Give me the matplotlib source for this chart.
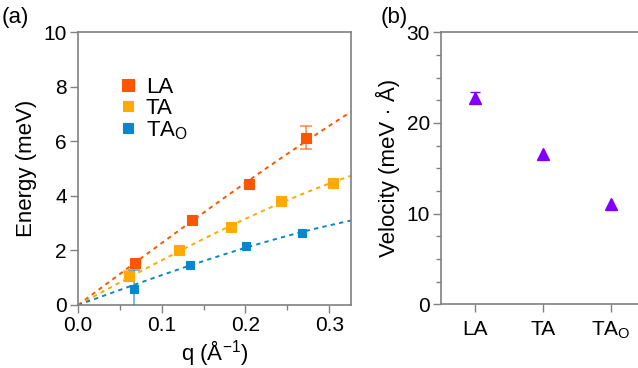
import numpy as np
import matplotlib
matplotlib.use("Agg")
import matplotlib.pyplot as plt

plt.rcParams['font.family'] = ['Liberation Sans', 'DejaVu Sans']
plt.rcParams['mathtext.fontset'] = 'custom'
plt.rcParams['mathtext.rm'] = 'Liberation Sans'
plt.rcParams['mathtext.it'] = 'Liberation Sans'

# ---- data: panel (a) ----
q_LA = [0.068, 0.136, 0.204, 0.272]
E_LA = [1.55, 3.10, 4.42, 6.13]
err_LA = [0.0, 0.0, 0.0, 0.43]

q_TA = [0.061, 0.121, 0.183, 0.243, 0.304]
E_TA = [1.06, 2.00, 2.85, 3.81, 4.48]
err_TA = [0.17, 0.0, 0.0, 0.0, 0.0]

q_TAO = [0.067, 0.134, 0.2005, 0.267]
E_TAO = [0.60, 1.465, 2.16, 2.65]
err_TAO = [0.67, 0.0, 0.0, 0.0]

# sine-dispersion fit parameters: initial slope (velocity) and zone-boundary q
fit_v = [22.8, 16.6, 11.1]
fit_qb = [0.948, 0.579, 0.536]

# ---- data: panel (b) ----
branches = ['LA', 'TA', r'TA$_\mathrm{O}$']
velocity = [22.8, 16.6, 11.1]
vel_err = [0.64, 0.0, 0.0]

c_LA = '#ff5500'
c_TA = '#ffaa00'
c_TAO = '#0a87cc'
c_v = '#8000ff'
spine_c = '#808080'

FS_TICK = 15
FS_LAB = 16

fig = plt.figure(figsize=(6.38, 3.68), dpi=100)
W, H = 638, 368

def add_ax(l, t, r, b):
    return fig.add_axes([l / W, 1 - b / H, (r - l) / W, (b - t) / H])

axa = add_ax(78, 32, 351, 305)
axb = add_ax(441, 32.3, 645, 304.3)

for ax in (axa, axb):
    for s in ax.spines.values():
        s.set_color(spine_c)
        s.set_linewidth(1.2)
    ax.tick_params(axis='both', which='major', direction='out', length=6, width=1.0,
                   color=spine_c, labelsize=FS_TICK, labelcolor='black', pad=2)
    ax.tick_params(axis='both', which='minor', direction='out', length=3.5, width=1.0,
                   color=spine_c)

# panel (a)
qq = np.linspace(0, 0.326, 200)
for v, qb, c in zip(fit_v, fit_qb, [c_LA, c_TA, c_TAO]):
    E = v * 2 * qb / np.pi * np.sin(np.pi * qq / (2 * qb))
    axa.plot(qq, E, ls=(0, (2.2, 2.2)), color=c, lw=1.4, zorder=2)

def pts(q, E, err, c, ms, label):
    q = np.asarray(q); E = np.asarray(E); err = np.asarray(err)
    m = err > 0
    axa.errorbar(q[m], E[m], yerr=err[m], fmt='none', ecolor=c, alpha=0.7,
                 elinewidth=1.1, capsize=4, capthick=1.1, zorder=3)
    axa.plot(q, E, ls='none', marker='s', ms=ms, color=c, mec=c, mfc=c, mew=0.8,
             label=label, zorder=4)

pts(q_LA, E_LA, err_LA, c_LA, 7.2, 'LA')
pts(q_TA, E_TA, err_TA, c_TA, 6.6, 'TA')
pts(q_TAO, E_TAO, err_TAO, c_TAO, 6.2, r'TA$_\mathrm{O}$')

axa.set_xlim(0, 0.326)
axa.set_ylim(0, 10)
axa.set_xticks([0.0, 0.1, 0.2, 0.3])
axa.set_xticklabels(['0.0', '0.1', '0.2', '0.3'])
axa.set_xticks([0.05, 0.15, 0.25], minor=True)
axa.set_yticks([0, 2, 4, 6, 8, 10])
axa.set_xlabel(r'q (Å$^{\mathrm{-1}}$)', fontsize=FS_LAB, labelpad=2)
axa.set_ylabel('Energy (meV)', fontsize=FS_LAB, labelpad=5)
leg = axa.legend(loc='upper left', bbox_to_anchor=(0.11, 0.875), frameon=False,
                 fontsize=FS_LAB, handlelength=0.8, handletextpad=0.4,
                 labelspacing=0.0, borderpad=0, markerscale=1.2)

# panel (b)
xb = np.arange(len(branches))
vel = np.asarray(velocity); verr = np.asarray(vel_err); mv = verr > 0
axb.errorbar(xb[mv], vel[mv], yerr=verr[mv], fmt='none', ecolor=c_v, elinewidth=1.0,
             capsize=3.5, capthick=1.0, zorder=3)
axb.plot(xb, velocity, ls='none', marker='^', ms=8, color=c_v, zorder=4)
axb.set_xlim(-0.5, 2.5)
axb.set_ylim(0, 30)
axb.set_xticks(xb)
axb.set_xticklabels(branches)
axb.set_yticks([0, 10, 20, 30])
axb.set_yticks([2.5, 5, 7.5, 12.5, 15, 17.5, 22.5, 25, 27.5], minor=True)
axb.tick_params(axis='x', which='major', pad=5)
axb.set_ylabel('Velocity (meV · Å)', fontsize=FS_LAB, labelpad=5)

fig.text(2 / W, 1 - 18 / H, '(a)', fontsize=FS_LAB, va='center', ha='left')
fig.text(381 / W, 1 - 18 / H, '(b)', fontsize=FS_LAB, va='center', ha='left')

fig.savefig('out.png', dpi=100)
